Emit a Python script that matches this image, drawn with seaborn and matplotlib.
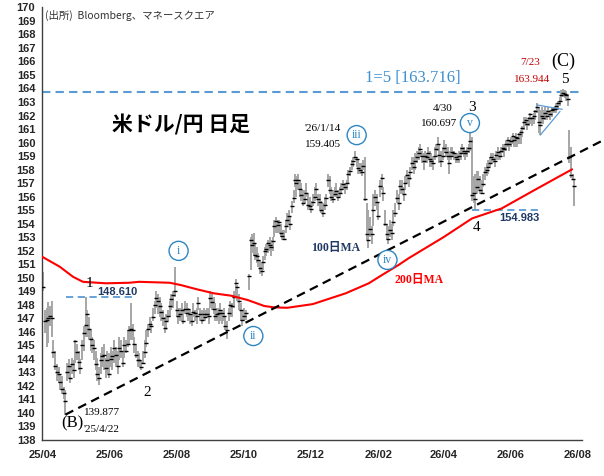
import pandas as pd
import matplotlib
matplotlib.use("Agg")
import matplotlib.pyplot as plt
import matplotlib.dates as mdates
from matplotlib.ticker import MultipleLocator
import seaborn as sns

# --- daily bars (high / low / close), in four stretches ---
# 2025/4/2 - 2025/10/3
s1_start, s1_end = "2025-04-02", "2025-10-03"
s1_hi = [150.4, 147.6, 147.8, 148.2, 147.9, 148.3, 145.4, 144.6, 143.6, 143.4, 142.9, 142.7, 141.9, 141.7,
         143.7, 144.0, 143.4, 144.1, 143.9, 145.4, 145.1, 144.6, 144.0, 145.4, 146.4, 148.61, 147.6, 147.1,
         146.1, 145.6, 145.4, 144.6, 144.1, 143.4, 144.4, 144.9, 145.1, 144.1, 144.6, 144.4, 144.9, 144.6,
         145.4, 144.9, 144.6, 145.6, 145.4, 144.6, 145.6, 145.4, 146.1, 146.4, 148.1, 146.6, 145.6, 145.1,
         144.6, 144.4, 143.9, 144.6, 145.4, 146.1, 146.6, 147.1, 146.8, 147.8, 148.3, 149.0, 148.8, 148.6,
         148.1, 147.6, 147.1, 147.3, 147.6, 148.3, 148.8, 149.0, 150.8, 148.3, 147.8, 147.8, 148.1, 147.6,
         148.3, 148.1, 147.8, 147.6, 147.3, 148.1, 147.6, 147.8, 148.6, 147.8, 147.6, 147.8, 147.6, 147.8,
         147.8, 149.0, 148.8, 148.6, 148.1, 147.8, 147.8, 148.1, 147.6, 147.8, 147.1, 146.8, 147.8, 148.3,
         148.1, 149.0, 149.9, 149.5, 148.8, 148.1, 147.6, 147.8, 147.6]
s1_lo = [149.0, 145.9, 144.9, 145.2, 146.4, 145.6, 144.1, 143.2, 142.4, 142.2, 141.7, 141.4, 141.0, 139.877,
         142.4, 142.6, 142.2, 142.9, 142.6, 143.7, 143.9, 143.2, 142.9, 143.9, 144.6, 145.6, 145.6, 145.4,
         144.6, 144.4, 143.9, 143.2, 142.4, 142.1, 142.9, 143.4, 143.2, 142.6, 142.9, 142.6, 143.4, 143.2,
         143.7, 143.4, 142.9, 143.9, 144.1, 143.4, 144.1, 144.4, 144.9, 145.1, 145.4, 145.4, 144.4, 144.1,
         143.4, 143.4, 143.2, 143.6, 144.1, 144.9, 145.6, 146.1, 145.9, 146.8, 147.3, 147.8, 147.3, 147.1,
         146.8, 146.4, 145.9, 146.1, 146.8, 147.1, 147.6, 147.8, 148.6, 147.1, 146.6, 146.8, 146.8, 146.6,
         147.3, 147.1, 146.8, 146.6, 146.4, 147.1, 146.8, 146.6, 147.6, 146.8, 146.6, 146.8, 146.8, 147.1,
         146.6, 147.8, 147.6, 147.3, 146.8, 146.8, 146.6, 146.8, 146.6, 146.8, 146.1, 145.5, 146.8, 147.1,
         147.1, 147.8, 148.6, 148.3, 147.6, 146.8, 146.4, 146.8, 146.9]
s1_cl = [149.3, 146.8, 146.9, 147.0, 147.2, 147.0, 144.5, 143.5, 143.0, 142.9, 142.3, 141.8, 141.5, 140.9,
         143.0, 143.5, 142.6, 143.6, 143.2, 145.3, 144.5, 143.8, 143.3, 145.0, 145.9, 146.5, 147.3, 146.2,
         145.5, 145.0, 144.8, 143.6, 142.9, 142.6, 143.9, 144.2, 144.3, 143.3, 143.9, 142.9, 144.0, 144.2,
         144.8, 144.3, 143.5, 144.8, 144.6, 143.7, 145.0, 144.6, 145.1, 146.1, 146.2, 146.1, 145.1, 144.3,
         143.9, 143.9, 143.4, 143.7, 144.5, 145.2, 146.2, 146.6, 146.4, 147.1, 148.0, 148.5, 148.3, 147.9,
         147.5, 147.0, 146.3, 146.8, 147.2, 147.9, 148.4, 148.7, 149.0, 147.6, 147.2, 147.3, 147.6, 146.8,
         147.7, 147.4, 147.7, 147.3, 146.8, 147.5, 147.4, 147.2, 148.1, 147.3, 146.9, 147.3, 147.1, 147.3,
         147.2, 148.5, 148.2, 147.7, 147.2, 147.3, 147.4, 147.6, 147.4, 147.2, 146.4, 146.1, 147.4, 148.0,
         147.9, 148.6, 149.6, 149.3, 148.3, 147.6, 146.9, 147.2, 147.4]

# 2025/10/6 - 2025/11/17
s2_start, s2_end = "2025-10-06", "2025-11-17"
s2_hi = [150.3, 153.0, 153.2, 153.3, 152.5, 152.3, 151.8, 151.3, 151.1, 151.6, 152.3, 152.5, 152.8, 153.0,
         152.8, 153.0, 154.3, 154.5, 154.3, 154.3, 154.0, 153.5, 153.5, 154.3, 154.8, 155.0, 154.5, 155.7,
         156.5, 157.7]
s2_lo = [149.1, 150.6, 151.8, 151.6, 151.3, 151.1, 150.8, 150.3, 150.1, 150.6, 151.3, 151.6, 151.8, 152.0,
         151.6, 152.0, 153.0, 153.3, 153.3, 153.3, 153.0, 152.8, 152.8, 153.3, 153.8, 154.0, 153.5, 154.8,
         155.5, 156.7]
s2_cl = [150.1, 152.8, 152.4, 152.6, 151.7, 151.6, 151.3, 150.7, 150.5, 151.2, 152.0, 152.1, 152.6, 152.4,
         152.3, 152.7, 153.8, 154.2, 153.9, 154.1, 153.3, 153.1, 152.9, 153.8, 154.3, 154.6, 154.0, 155.3,
         155.9, 157.2]

# 2025/11/18 - 2026/3/17
s3_start, s3_end = "2025-11-18", "2026-03-17"
s3_hi = [157.5, 157.7, 157.2, 157.0, 156.5, 156.5, 157.0, 156.2, 156.0, 155.7, 156.2, 156.7, 157.0, 156.2,
         156.2, 155.7, 155.5, 156.0, 156.2, 157.7, 157.5, 156.7, 156.5, 156.7, 157.0, 156.5, 156.7, 157.0,
         157.2, 157.0, 157.2, 158.0, 158.2, 158.7, 158.9, 159.405, 158.9, 158.7, 158.5, 158.5, 158.7, 158.9,
         155.5, 155.0, 154.5, 153.8, 156.2, 156.5, 156.2, 155.5, 157.2, 157.7, 156.7, 155.0, 154.0, 153.8,
         154.3, 154.0, 155.0, 155.5, 156.5, 156.2, 157.2, 157.2, 156.7, 157.5, 158.0, 157.7, 158.2, 158.9,
         158.9, 159.2, 159.4, 159.7, 159.9, 159.4, 159.2, 159.4, 159.2]
s3_lo = [156.0, 156.5, 156.0, 155.7, 155.3, 155.5, 156.0, 155.0, 155.0, 154.8, 155.3, 155.7, 156.0, 155.3,
         155.0, 154.8, 154.5, 155.0, 155.3, 156.7, 156.2, 155.7, 155.5, 156.0, 156.0, 155.7, 156.0, 156.2,
         156.5, 156.2, 156.5, 157.0, 157.5, 158.0, 158.2, 158.7, 158.2, 157.7, 157.7, 157.5, 158.0, 155.7,
         152.8, 152.2, 153.0, 152.5, 153.8, 155.3, 155.0, 154.3, 156.0, 156.5, 155.7, 153.8, 152.8, 152.5,
         153.0, 152.8, 153.8, 154.5, 155.5, 155.0, 156.2, 156.2, 155.7, 156.5, 157.0, 156.7, 157.2, 158.0,
         157.7, 158.0, 158.5, 158.7, 158.9, 158.5, 158.0, 158.5, 158.5]
s3_cl = [157.0, 157.2, 156.6, 156.1, 155.5, 155.8, 156.3, 155.4, 155.3, 155.1, 155.6, 156.0, 156.6, 155.8,
         155.6, 155.0, 154.8, 155.4, 155.9, 157.2, 156.5, 156.0, 155.8, 156.2, 156.4, 156.0, 156.3, 156.6,
         156.9, 156.7, 157.0, 157.7, 157.9, 158.4, 158.6, 158.9, 158.8, 158.1, 158.0, 157.8, 158.3, 155.8,
         153.2, 152.8, 153.6, 153.2, 155.0, 156.0, 155.6, 154.6, 156.8, 157.4, 156.3, 154.0, 153.2, 152.9,
         153.5, 153.3, 154.1, 154.8, 155.9, 155.5, 156.8, 156.6, 156.2, 157.0, 157.6, 157.4, 157.8, 158.5,
         158.2, 158.6, 158.9, 159.2, 159.5, 159.0, 158.6, 159.0, 158.9]

# 2026/3/18 - 2026/7/29
s4_start, s4_end = "2026-03-18", "2026-07-29"
s4_hi = [159.7, 159.4, 159.2, 159.0, 159.7, 159.9, 160.4, 159.9, 159.4, 159.7, 160.2, 159.9, 159.7, 159.4,
         159.7, 159.7, 159.4, 159.2, 159.2, 159.4, 159.7, 159.9, 159.7, 159.4, 159.7, 159.9, 160.697, 160.4,
         157.5, 157.7, 157.9, 157.9, 157.5, 157.2, 157.7, 158.2, 158.5, 158.7, 158.9, 159.2, 159.2, 158.9,
         159.4, 159.7, 159.4, 159.7, 159.9, 159.9, 160.2, 160.4, 160.2, 160.4, 160.7, 160.4, 160.7, 160.4,
         160.7, 160.9, 161.2, 161.9, 161.9, 161.7, 161.9, 162.2, 161.9, 162.2, 162.4, 162.9, 162.6, 162.4,
         162.6, 162.4, 162.6, 162.4, 162.6, 162.4, 162.6, 162.6, 162.6, 162.9, 163.1, 163.4, 163.9, 163.944,
         163.9, 163.8, 163.6, 160.9, 159.7, 157.7, 157.2]
s4_lo = [158.7, 158.2, 158.2, 158.0, 158.7, 158.9, 159.4, 158.5, 158.2, 158.7, 159.2, 158.9, 158.7, 157.7,
         158.7, 158.9, 158.7, 158.5, 158.5, 158.5, 158.7, 159.2, 158.9, 158.7, 158.9, 159.2, 159.4, 155.7,
         155.5, 154.983, 156.2, 156.5, 156.2, 156.2, 156.7, 157.2, 157.5, 157.7, 158.2, 158.5, 158.5, 158.2,
         158.7, 158.7, 158.7, 158.9, 159.2, 158.9, 159.4, 159.7, 159.4, 159.7, 159.9, 159.7, 159.7, 159.7,
         159.9, 159.9, 160.4, 160.9, 161.2, 160.9, 161.2, 161.4, 161.2, 161.4, 161.7, 162.2, 160.7, 160.55,
         161.4, 161.4, 161.7, 161.7, 161.9, 161.7, 161.9, 162.2, 162.2, 162.2, 162.4, 162.7, 163.1, 163.4,
         163.3, 163.1, 162.7, 158.5, 157.4, 157.2, 155.3]
s4_cl = [159.2, 158.8, 158.6, 158.5, 159.0, 159.5, 159.9, 159.1, 158.6, 159.0, 159.6, 159.3, 159.0, 158.5,
         159.0, 159.3, 159.2, 158.9, 158.8, 159.0, 159.2, 159.6, 159.4, 159.2, 159.4, 159.6, 160.1, 156.1,
         156.3, 155.8, 156.7, 157.3, 156.5, 156.3, 156.9, 157.8, 158.0, 158.2, 158.5, 158.9, 158.8, 158.6,
         159.1, 159.3, 159.0, 159.4, 159.6, 159.5, 159.9, 160.2, 159.9, 160.1, 160.5, 160.2, 160.4, 160.3,
         160.6, 160.8, 161.1, 161.5, 161.7, 161.4, 161.8, 162.1, 161.8, 162.0, 162.3, 162.6, 161.5, 161.3,
         162.0, 161.8, 162.2, 162.0, 162.3, 162.1, 162.4, 162.5, 162.5, 162.7, 162.9, 163.1, 163.5, 163.7,
         163.6, 163.5, 163.2, 158.9, 157.6, 157.3, 156.8]

# 200-day moving average (red line)
ma_dates = ["2025-04-01", "2025-04-17", "2025-04-29", "2025-05-08", "2025-05-29", "2025-06-19", "2025-06-28",
            "2025-07-26", "2025-08-05", "2025-08-20", "2025-09-04", "2025-09-20", "2025-10-05", "2025-10-20",
            "2025-10-29", "2025-11-10", "2025-11-21", "2025-12-03", "2026-01-02", "2026-01-23", "2026-02-04",
            "2026-02-19", "2026-02-28", "2026-04-01", "2026-04-27", "2026-05-24", "2026-06-20", "2026-07-12",
            "2026-07-27"]
ma_vals = [151.55, 150.81, 150.07, 149.70, 149.59, 149.63, 149.70, 149.63, 149.46, 149.14, 148.85, 148.67,
           148.35, 147.91, 147.81, 147.78, 147.91, 148.05, 148.85, 149.59, 150.20, 150.94, 151.43, 153.0,
           154.39, 155.13, 156.36, 157.35, 158.02]

# support trend line from the (B) low, and other reference levels
trend_dates = ["2025-04-22", "2026-08-24"]
trend_vals = [139.877, 160.16]
target_level = 163.716
wave1_level, wave1_span = 148.610, ["2025-04-23", "2025-06-23"]
wave4_level, wave4_span = 154.983, ["2026-04-27", "2026-06-27"]
tri_top_dates, tri_top_vals = ["2026-06-25", "2026-07-18"], [162.78, 162.46]
tri_low_dates, tri_low_vals = ["2026-06-28", "2026-07-16"], [160.55, 162.30]

month_labels = ["25/04", "", "25/06", "", "25/08", "", "25/10", "", "25/12", "", "26/02", "", "26/04", "",
                "26/06", "", "26/08"]

sns.set_style("white")
plt.rcParams["font.family"] = ["Liberation Sans", "Noto Sans CJK JP", "DejaVu Sans"]
SERIF = ["Liberation Serif", "Noto Sans CJK JP", "DejaVu Sans"]
JP = ["Noto Sans CJK JP", "DejaVu Sans"]

frames = []
for start, end, hi, lo, cl in [(s1_start, s1_end, s1_hi, s1_lo, s1_cl),
                               (s2_start, s2_end, s2_hi, s2_lo, s2_cl),
                               (s3_start, s3_end, s3_hi, s3_lo, s3_cl),
                               (s4_start, s4_end, s4_hi, s4_lo, s4_cl)]:
    frames.append(pd.DataFrame({"date": pd.date_range(start, end, periods=len(hi)),
                                "high": hi, "low": lo, "close": cl}))
df = pd.concat(frames, ignore_index=True)
ma = pd.DataFrame({"date": pd.to_datetime(ma_dates), "ma": ma_vals})

fig = plt.figure(figsize=(6.04, 4.76), dpi=100)
ax = fig.add_axes([0.070, 0.0756, 0.8936, 0.909])

# bars
ax.vlines(df["date"], df["low"], df["high"], color="#A6A6A6", lw=1.4, zorder=2)
ax.plot(df["date"], df["close"], ls="none", marker="_", ms=2.6, mew=1.0, color="black", zorder=3)

# lines
sns.lineplot(data=ma, x="date", y="ma", color="#FF0000", lw=1.5, ax=ax, zorder=4)
sns.lineplot(x=pd.to_datetime(trend_dates), y=trend_vals, color="black", lw=1.6,
             ls=(0, (4, 2.5)), ax=ax, clip_on=False, zorder=4)
ax.axhline(target_level, color="#5B9BD5", lw=1.5, ls=(0, (4, 2.5)), zorder=1)
ax.plot(pd.to_datetime(wave1_span), [wave1_level] * 2, color="#5B9BD5", lw=1.3, ls=(0, (4, 2.5)))
ax.plot(pd.to_datetime(wave4_span), [wave4_level] * 2, color="#5B9BD5", lw=1.3, ls=(0, (4, 2.5)))
ax.plot(pd.to_datetime(tri_top_dates), tri_top_vals, color="#5B9BD5", lw=0.9)
ax.plot(pd.to_datetime(tri_low_dates), tri_low_vals, color="#5B9BD5", lw=0.9)

ax.set_xlim(pd.Timestamp("2025-04-01"), pd.Timestamp("2026-08-05"))
ax.set_ylim(138, 170)
ax.set_xlabel("")
ax.set_ylabel("")

for s in ["top", "right"]:
    ax.spines[s].set_visible(False)
for s in ["left", "bottom"]:
    ax.spines[s].set_color("#404040")
    ax.spines[s].set_linewidth(1.0)

ax.yaxis.set_major_locator(MultipleLocator(1))
ax.tick_params(axis="y", direction="inout", length=6, width=0.8, color="#404040", labelsize=8, pad=2)
ax.set_xticks(pd.date_range("2025-04-01", "2026-08-01", freq="MS"))
ax.set_xticklabels(month_labels)
ax.tick_params(axis="x", direction="out", length=4, width=0.8, color="#404040", labelsize=8, pad=3)
for t in ax.get_xticklabels() + ax.get_yticklabels():
    t.set_fontweight("bold")


def lbl(date, val, text, size=8, color="black", family=SERIF, **kw):
    ax.text(pd.Timestamp(date), val, text, ha=kw.pop("ha", "center"), va=kw.pop("va", "center"),
            fontsize=size, color=color, family=family, zorder=6, **kw)


def circ(date, val, text):
    ax.text(pd.Timestamp(date), val, text, ha="center", va="center", fontsize=8.5, color="#2E86C1",
            family=SERIF, zorder=6,
            bbox=dict(boxstyle="circle,pad=0.3", fc="white", ec="#2E86C1", lw=1.0))


fig.text(45 / 604, 1 - 15 / 476, "(出所)  Bloomberg、マネースクエア", fontsize=7.5, color="#333333",
         family=JP, va="center", ha="left")
lbl("2025-08-05", 161.3, "米ドル/円 日足", size=15, family=JP, fontweight="bold")

lbl("2026-03-04", 164.77, "1=5 [163.716]", size=12, color="#3D8FD1")
lbl("2026-06-19", 165.95, "7/23", color="#C00000")
lbl("2026-06-21", 164.69, "163.944", color="#C00000")
lbl("2026-07-19", 166.03, "(C)", size=13)
lbl("2026-07-20", 164.69, "5", size=11)
lbl("2026-03-31", 162.55, "4/30")
lbl("2026-03-28", 161.44, "160.697")
lbl("2026-04-27", 162.62, "3", size=11)
circ("2026-04-25", 161.44, "v")
lbl("2025-12-12", 161.07, "'26/1/14")
lbl("2025-12-12", 159.89, "159.405")
circ("2026-01-12", 160.55, "iii")
lbl("2026-06-09", 154.41, "154.983", color="#1F3864", family=plt.rcParams["font.family"], fontweight="bold")
lbl("2026-05-01", 153.68, "4", size=11)
lbl("2025-12-24", 152.21, "100日MA", size=8.5, color="#1F3864", fontweight="bold")
lbl("2026-03-10", 149.83, "200日MA", size=8.5, color="#FF0000", fontweight="bold")
circ("2026-02-09", 151.32, "iv")
lbl("2025-05-14", 149.61, "1", size=11)
lbl("2025-06-08", 148.94, "148.610", color="#1F3864", family=plt.rcParams["font.family"], fontweight="bold")
circ("2025-08-03", 151.99, "i")
lbl("2025-07-05", 141.48, "2", size=11)
circ("2025-10-10", 145.69, "ii")
lbl("2025-04-28", 139.26, "(B)", size=12)
lbl("2025-05-25", 140.0, "139.877")
lbl("2025-05-25", 138.81, "'25/4/22")

fig.savefig("out.png", dpi=100)
